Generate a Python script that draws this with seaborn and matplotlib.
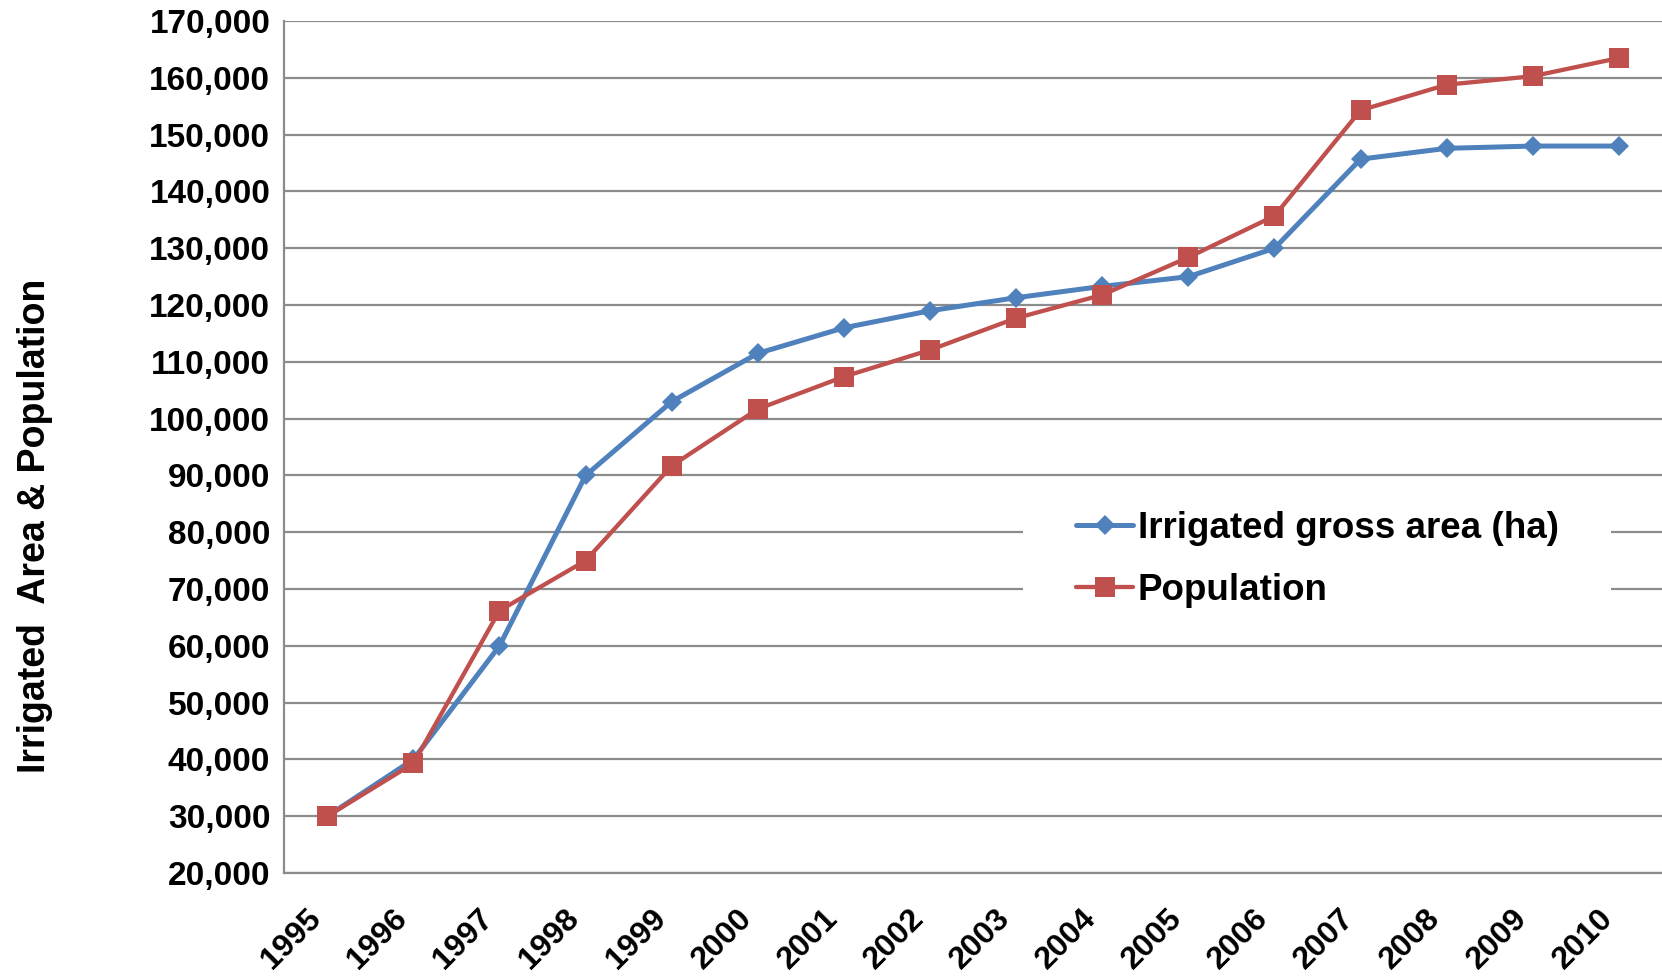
import matplotlib
matplotlib.use("Agg")
import matplotlib.pyplot as plt
import matplotlib.patches as mpatches
import matplotlib.ticker as mticker
import matplotlib.transforms as mtransforms
import seaborn as sns
import pandas as pd

years = list(range(1995, 2011))
irrigated = [30000, 40000, 60000, 90000, 103000, 111500, 116000, 119000,
             121300, 123300, 125000, 130000, 145700, 147600, 148000, 148000]
population = [30000, 39300, 66200, 75000, 91700, 101700, 107400, 112100,
              117700, 121800, 128400, 135700, 154300, 158800, 160300, 163500]
series_names = ["Irrigated gross area (ha)", "Population"]
y_ticks = list(range(20000, 170001, 10000))

sns.set_theme(style="white")
plt.rcParams['font.family'] = ['Liberation Sans', 'DejaVu Sans']
plt.rcParams['font.weight'] = 'bold'
plt.rcParams['text.color'] = 'black'
plt.rcParams['xtick.color'] = 'black'
plt.rcParams['ytick.color'] = 'black'
plt.rcParams['axes.labelcolor'] = 'black'

df = pd.DataFrame({
    "Year": years * 2,
    "Value": irrigated + population,
    "Series": [series_names[0]] * len(years) + [series_names[1]] * len(years),
})

fig = plt.figure(figsize=(16.62, 9.77), dpi=100)
ax = fig.add_axes([0.171, 0.1064, 0.829, 0.872])

palette = {series_names[0]: "#4F81BD", series_names[1]: "#C0504D"}
markers = {series_names[0]: "D", series_names[1]: "s"}
sns.lineplot(data=df, x="Year", y="Value", hue="Series", style="Series",
             palette=palette, markers=markers, dashes=False, ax=ax,
             linewidth=3.3, markeredgewidth=0, zorder=3)
msizes = {series_names[0]: 10, series_names[1]: 14}
lwidths = {series_names[0]: 3.6, series_names[1]: 3.1}
for l, name in zip(ax.get_lines()[:2], series_names):
    l.set_markersize(msizes[name])
    l.set_linewidth(lwidths[name])

ax.set_xlim(1994.5, 2010.5)
ax.set_ylim(20000, 170000)
ax.set_yticks(y_ticks)
ax.yaxis.set_major_formatter(mticker.FuncFormatter(lambda v, p: f"{int(v):,}"))
ax.set_xticks(years)
ax.set_xticklabels([str(y) for y in years], rotation=45, ha='right',
                   fontsize=23, fontweight='bold')
offset = mtransforms.ScaledTranslation(9 / 100, 0, fig.dpi_scale_trans)
for t in ax.get_xticklabels():
    t.set_transform(t.get_transform() + offset)
for t in ax.get_yticklabels():
    t.set_fontsize(24)
    t.set_fontweight('bold')
ax.tick_params(axis='both', length=0)
ax.tick_params(axis='y', pad=10)
ax.tick_params(axis='x', pad=22)

ax.grid(axis='y', color='#8C8C8C', linewidth=1.6)
ax.set_axisbelow(True)
for side in ['top', 'right']:
    ax.spines[side].set_visible(False)
for side in ['left', 'bottom']:
    ax.spines[side].set_color('#8C8C8C')
    ax.spines[side].set_linewidth(1.6)

ax.set_xlabel("")
ax.set_ylabel("Irrigated  Area & Population", fontsize=27, fontweight='bold')
ax.yaxis.set_label_coords(-0.168, 0.408)

# legend background
bg = mpatches.Rectangle((0.536, 0.303), 0.427, 0.137, transform=ax.transAxes,
                        facecolor='white', edgecolor='none', zorder=2)
ax.add_patch(bg)
handles, labels = ax.get_legend_handles_labels()
leg = ax.legend(handles, labels, loc='center left', bbox_to_anchor=(0.575, 0.368),
                frameon=False, fontsize=26.5, handlelength=1.55, handletextpad=0.12,
                labelspacing=0.75, borderpad=0, borderaxespad=0, markerscale=1.0)
for t in leg.get_texts():
    t.set_fontweight('bold')
for h, name in zip(leg.legend_handles, series_names):
    h.set_markersize(msizes[name])
    h.set_linewidth(lwidths[name])

fig.savefig("out.png", dpi=100)
